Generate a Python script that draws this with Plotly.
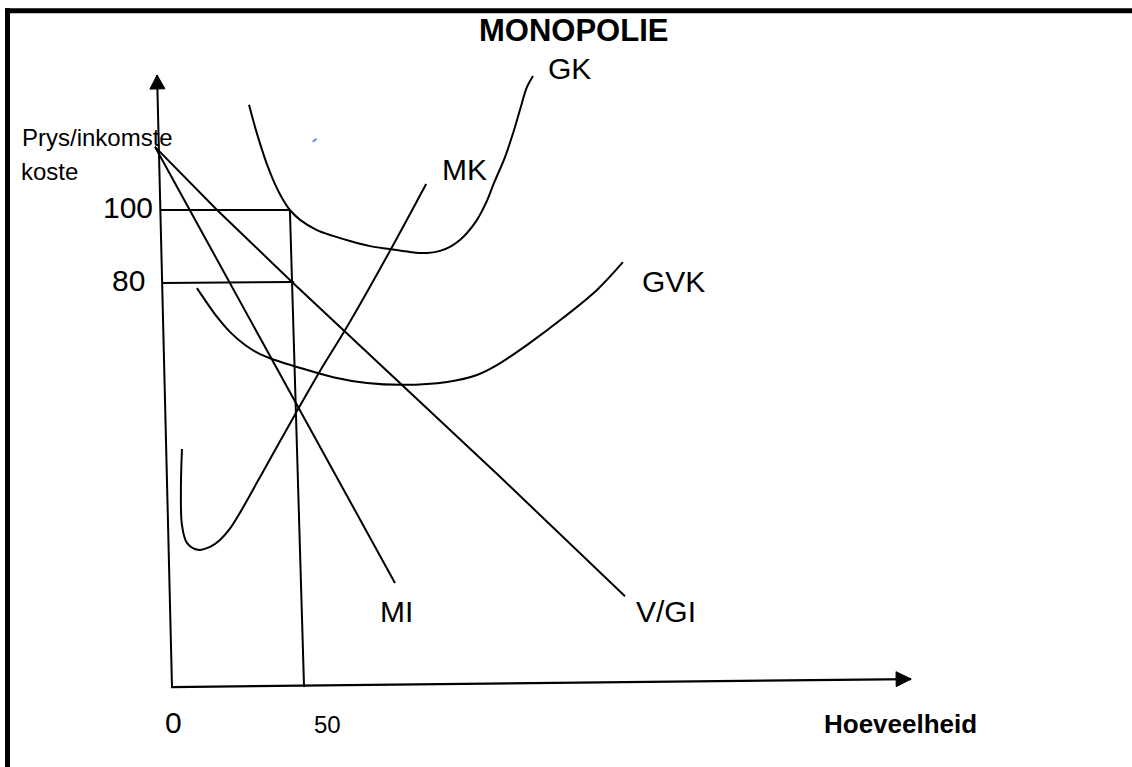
import math
import plotly.graph_objects as go

# ---------------- data ----------------
# Q = hoeveelheid (quantity), P = prys/inkomste/koste (price)
gk_q = [29.4, 31.7, 34.0, 36.6, 39.3, 42.0, 45.0, 48.9, 55.3, 61.5, 67.9, 75.6, 83.2,
        90.8, 97.3, 102.3, 106.1, 109.9, 112.6, 116.4, 120.2, 122.9, 127.1, 130.2,
        132.8, 135.5, 137.8]
gk_p = [128.8, 122.7, 117.3, 111.8, 107.1, 103.3, 100.0, 97.3, 94.5, 92.9, 91.5, 90.1,
        89.3, 88.5, 88.2, 88.8, 89.9, 91.8, 93.7, 97.3, 102.5, 107.4, 114.5, 121.1,
        127.4, 133.7, 136.7]

gvk_q = [9.5, 13.4, 17.2, 22.1, 27.9, 33.6, 39.3, 47.7, 61.5, 74.4, 88.2, 105.0,
         116.4, 124.0, 136.6, 149.2, 162.2, 172.1]
gvk_p = [78.6, 74.5, 70.7, 66.6, 63.0, 60.5, 58.9, 57.0, 54.2, 52.6, 52.1, 52.9,
         54.8, 57.5, 63.6, 70.4, 78.1, 85.7]

mk_q = [3.8, 3.4, 3.8, 5.7, 9.9, 14.5, 18.3, 22.1, 26.3, 32.8, 39.3, 47.7, 56.5,
        66.8, 83.2, 97.0]
mk_p = [34.5, 23.3, 13.7, 8.8, 6.9, 7.7, 9.6, 12.7, 17.5, 25.8, 34.2, 44.9, 55.9,
        68.0, 88.8, 107.1]

mi_q = [-6.5, 85.1]
mi_p = [117.3, -2.2]

vgi_q = [-6.5, 17.2, 46.2, 125.2, 172.9]
vgi_p = [117.3, 100.0, 80.0, 26.9, -5.8]

# guide lines at the monopoly output
guide100_q = [-4.6, 45.0]
guide100_p = [100.0, 100.0]
guide80_q = [-3.8, 46.6]
guide80_p = [80.0, 80.3]
drop_q = [45.0, 50.4]
drop_p = [100.0, -30.7]

# hand-drawn axes
yaxis_q = [0.0, -5.7]
yaxis_p = [-30.7, 137.0]
xaxis_q = [-0.4, 282.1]
xaxis_p = [-30.7, -28.5]

# small blue stroke
blue_q = [53.7, 55.2]
blue_p = [118.7, 119.5]

price_ticks = [100, 80]
price_tick_labels = ["100", "80"]
qty_ticks = [0, 50]
qty_tick_labels = ["0", "50"]

curve_labels = ["GK", "MK", "GVK", "MI", "V/GI"]

# ---------------- layout ----------------
W, H = 1132, 767
X_RANGE = [-65.65, 366.41]
Y_RANGE = [-52.60, 157.53]
UX = W / (X_RANGE[1] - X_RANGE[0])
UY = H / (Y_RANGE[1] - Y_RANGE[0])
FONT = "Liberation Sans, Arial, sans-serif"
BLACK = "#000000"

fig = go.Figure()


def line(q, p, width=2, color=BLACK, shape="linear"):
    fig.add_trace(go.Scatter(x=q, y=p, mode="lines",
                             line=dict(color=color, width=width, shape=shape),
                             hoverinfo="skip", showlegend=False))


def arrow_head(q, p, length_px=14, half_px=7.5):
    x0, y0 = q[-2] * UX, p[-2] * UY
    x1, y1 = q[-1] * UX, p[-1] * UY
    n = math.hypot(x1 - x0, y1 - y0)
    dx, dy = (x1 - x0) / n, (y1 - y0) / n
    bx, by = x1 - dx * length_px, y1 - dy * length_px
    px, py = -dy * half_px, dx * half_px
    xs = [x1, bx + px, bx - px, x1]
    ys = [y1, by + py, by - py, y1]
    fig.add_trace(go.Scatter(x=[v / UX for v in xs], y=[v / UY for v in ys],
                             mode="lines", fill="toself", fillcolor=BLACK,
                             line=dict(color=BLACK, width=1),
                             hoverinfo="skip", showlegend=False))


# axes
line(yaxis_q, yaxis_p, width=2)
line(xaxis_q, xaxis_p, width=2.2)
arrow_head(yaxis_q, yaxis_p, 14, 7.5)
arrow_head(xaxis_q, xaxis_p, 15, 7.5)

# guides
line(guide100_q, guide100_p)
line(guide80_q, guide80_p)
line(drop_q, drop_p)

# curves
line(mi_q, mi_p)
line(vgi_q, vgi_p)
line(gk_q, gk_p, shape="spline")
line(gvk_q, gvk_p, shape="spline")
line(mk_q, mk_p, shape="spline")
line(blue_q, blue_p, width=2, color="#5b8bd3")

ann = []


def text(s, q, p, size, bold=False, xanchor="center", xshift=0, yshift=0):
    ann.append(dict(text=f"<b>{s}</b>" if bold else s, x=q, y=p, xref="x", yref="y",
                    showarrow=False, xanchor=xanchor, yanchor="middle",
                    xshift=xshift, yshift=yshift,
                    font=dict(family=FONT, size=size, color=BLACK)))


# curve labels
label_pos = {"GK": (151.7, 138.8), "MK": (111.5, 111.2), "GVK": (191.4, 80.5),
             "MI": (85.7, -9.9), "V/GI": (188.5, -9.9)}
for name in curve_labels:
    q, p = label_pos[name]
    text(name, q, p, 30)

# tick labels
for v, s in zip(price_ticks, price_tick_labels):
    text(s, -16.7, v, 30, yshift=2.5)
text(qty_tick_labels[0], qty_ticks[0], -40.4, 30, xshift=1)
text(qty_tick_labels[1], qty_ticks[1], -40.9, 24, xshift=24)

# axis titles & title
text("Prys/inkomste", -28.6, 119.9, 24)
text("koste", -46.6, 110.6, 24)
text("Hoeveelheid", 277.9, -40.7, 26, bold=True)
text("MONOPOLIE", 153.2, 149.1, 31, bold=True)

# frame (top and left edges)
shapes = [
    dict(type="line", xref="paper", yref="paper", x0=5 / W, x1=1.02,
         y0=1 - 10.8 / H, y1=1 - 10.8 / H, line=dict(color=BLACK, width=5)),
    dict(type="line", xref="paper", yref="paper", x0=7.5 / W, x1=7.5 / W,
         y0=-0.02, y1=1 - 8.3 / H, line=dict(color=BLACK, width=5)),
]

fig.update_layout(
    width=W, height=H, autosize=False,
    margin=dict(l=0, r=0, t=0, b=0, pad=0),
    paper_bgcolor="white", plot_bgcolor="white",
    showlegend=False,
    xaxis=dict(range=X_RANGE, visible=False, fixedrange=True),
    yaxis=dict(range=Y_RANGE, visible=False, fixedrange=True),
    annotations=ann, shapes=shapes,
)

fig.write_html(
    "out.html", config={"displayModeBar": False},
    post_script=("document.body.style.margin='0';"
                 "document.body.style.overflow='hidden';"
                 "document.documentElement.style.overflow='hidden';"))
